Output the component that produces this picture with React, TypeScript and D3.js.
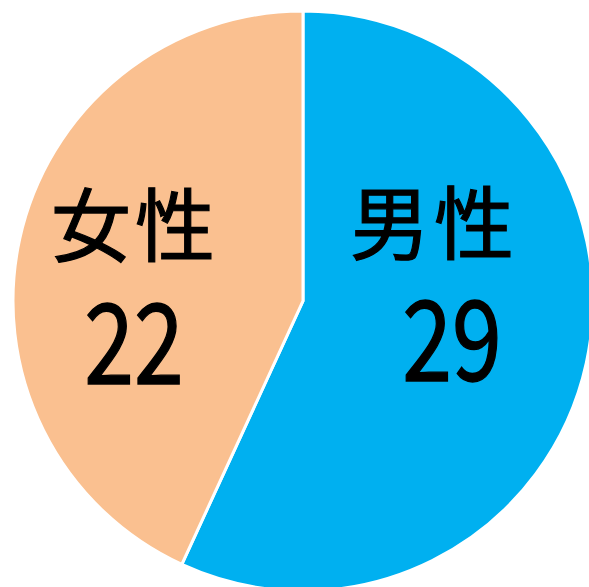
import React from "react";
import * as d3 from "d3";

const categories = ["男性", "女性"];
const values = [29, 22];
const colors = ["#00B0F0", "#FAC090"];

const W = 589;
const H = 587;
const cx = 303;
const cy = 301;
const R = 290;

const labelPos = [
  { nameX: 434, nameY: 218, valX: 452, valY: 381 },
  { nameX: 135, nameY: 220, valX: 134, valY: 384 },
];

export default function App() {
  const pie = d3.pie<number>().sort(null).startAngle(0).endAngle(2 * Math.PI);
  const arcs = pie(values);
  const arc = d3.arc<d3.PieArcDatum<number>>().innerRadius(0).outerRadius(R);
  const font = "'Noto Sans CJK JP', sans-serif";
  return (
    <svg
      width={W}
      height={H}
      style={{ position: "absolute", left: 0, top: 0, background: "#fff" }}
    >
      <g transform={`translate(${cx},${cy})`}>
        {arcs.map((a, i) => (
          <path
            key={i}
            d={arc(a) || ""}
            fill={colors[i]}
            stroke="#fff"
            strokeWidth={3}
            strokeLinejoin="miter"
          />
        ))}
      </g>
      {arcs.map((a, i) => (
        <g key={"l" + i}>
          <text
            x={labelPos[i].nameX}
            y={labelPos[i].nameY}
            textAnchor="middle"
            dominantBaseline="central"
            fontFamily={font}
            fontSize={80}
            letterSpacing={4}
            fill="#000"
            stroke="#000"
            strokeWidth={1.2}
          >
            {categories[i]}
          </text>
          <text
            transform={`translate(${labelPos[i].valX},${labelPos[i].valY}) scale(0.974,1.22)`}
            textAnchor="middle"
            fontFamily={font}
            fontSize={92}
            fill="#000"
            stroke="#000"
            strokeWidth={1.2}
          >
            {values[i]}
          </text>
        </g>
      ))}
    </svg>
  );
}
